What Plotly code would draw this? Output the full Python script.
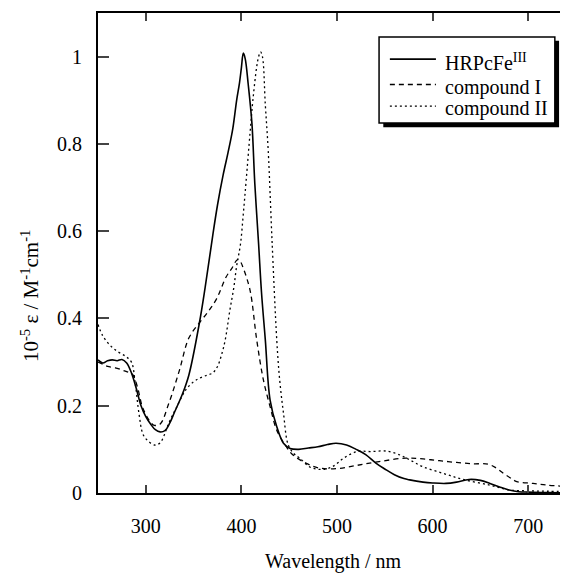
import plotly.graph_objects as go

# HRPcFe(III) resting enzyme
wl_fe = [250, 255, 260, 265, 270, 275, 280, 285, 290, 295, 300, 305, 310, 315, 320,
         325, 330, 338, 345, 356, 362, 370, 375, 381, 386, 391, 395, 398, 400, 402,
         404, 407, 411, 414, 418, 421, 425, 430, 437, 444, 451, 460, 470, 480, 490,
         499, 510, 520, 530, 541, 550, 560, 570, 576, 590, 600, 614, 625, 638, 650,
         660, 670, 680, 690, 700, 720, 741]
eps_fe = [0.305, 0.298, 0.303, 0.305, 0.303, 0.306, 0.298, 0.275, 0.24, 0.2, 0.175,
          0.158, 0.145, 0.14, 0.143, 0.16, 0.185, 0.225, 0.27, 0.389, 0.47, 0.59,
          0.66, 0.73, 0.78, 0.835, 0.9, 0.94, 0.975, 1.008, 0.995, 0.939, 0.847,
          0.71, 0.57, 0.46, 0.351, 0.213, 0.152, 0.114, 0.102, 0.1, 0.103, 0.106,
          0.111, 0.114, 0.11, 0.1, 0.088, 0.068, 0.055, 0.042, 0.033, 0.03, 0.025,
          0.023, 0.022, 0.025, 0.031, 0.029, 0.022, 0.014, 0.007, 0.003, 0.002,
          0.001, 0.0]

# compound I
wl_c1 = [250, 255, 260, 268, 275, 280, 286, 291, 296, 300, 305, 309, 315, 324, 335,
         345, 356, 365, 374, 384, 390, 396, 399, 402, 409, 416, 423, 430, 437, 447,
         454, 468, 482, 500, 520, 544, 572, 590, 607, 625, 642, 658, 666, 674, 681,
         688, 705, 720, 741]
eps_c1 = [0.30, 0.295, 0.29, 0.287, 0.282, 0.278, 0.272, 0.245, 0.2, 0.18, 0.162,
          0.155, 0.158, 0.205, 0.28, 0.355, 0.39, 0.415, 0.445, 0.495, 0.515, 0.535,
          0.53, 0.515, 0.465, 0.351, 0.259, 0.198, 0.144, 0.106, 0.087, 0.068, 0.057,
          0.056, 0.063, 0.072, 0.08, 0.078, 0.074, 0.07, 0.067, 0.066, 0.058, 0.045,
          0.035, 0.026, 0.022, 0.018, 0.015]

# compound II
wl_c2 = [250, 255, 262, 270, 279, 285, 289, 293, 297, 302, 309, 315, 324, 333, 342,
         350, 356, 364, 370, 375, 379, 383, 388, 392, 395, 399, 402, 405, 409, 412,
         416, 418, 420, 422, 425, 428, 432, 437, 440, 444, 449, 455, 461, 472, 484,
         495, 507, 521, 535, 552, 566, 576, 590, 611, 632, 660, 680, 700, 720, 741]
eps_c2 = [0.386, 0.36, 0.34, 0.325, 0.313, 0.3, 0.25, 0.18, 0.135, 0.12, 0.11, 0.115,
          0.16, 0.2, 0.237, 0.255, 0.263, 0.27, 0.275, 0.29, 0.315, 0.35, 0.42, 0.47,
          0.52, 0.57, 0.64, 0.717, 0.824, 0.9, 0.977, 1.0, 1.011, 1.0, 0.89, 0.786,
          0.58, 0.35, 0.26, 0.183, 0.11, 0.09, 0.08, 0.059, 0.054, 0.06, 0.08, 0.095,
          0.095, 0.096, 0.087, 0.076, 0.06, 0.045, 0.031, 0.018, 0.007, 0.005, 0.004,
          0.004]

series_names = ["HRPcFe<sup>III</sup>", "compound I", "compound II"]
x_ticks = [300, 400, 500, 600, 700]
y_ticks = [0, 0.2, 0.4, 0.6, 0.8, 1]
y_tick_text = ["0", "0.2", "0.4", "0.6", "0.8", "1"]

serif = "Liberation Serif"
styles = [dict(width=1.6, dash="solid"),
          dict(width=1.3, dash="5px,4px"),
          dict(width=1.3, dash="2px,3px")]

fig = go.Figure()
for (wl, eps), name, st in zip([(wl_fe, eps_fe), (wl_c1, eps_c1), (wl_c2, eps_c2)],
                               series_names, styles):
    fig.add_trace(go.Scatter(x=wl, y=eps, mode="lines", name=name, showlegend=False,
                             line=dict(color="black", shape="spline", **st)))

# hand-drawn legend box with drop shadow (like the original figure)
fig.add_shape(type="rect", xref="paper", yref="paper",
              x0=0.607, x1=0.981, y0=0.762, y1=0.942,
              fillcolor="black", line=dict(width=0))
fig.add_shape(type="rect", xref="paper", yref="paper",
              x0=0.598, x1=0.972, y0=0.771, y1=0.950,
              fillcolor="white", line=dict(color="black", width=1.5))
row_y = [0.904, 0.851, 0.806]
for name, st, yy in zip(series_names, styles, row_y):
    fig.add_shape(type="line", xref="paper", yref="paper",
                  x0=0.621, x1=0.719, y0=yy, y1=yy,
                  line=dict(color="black", **st))
    fig.add_annotation(text=name, xref="paper", yref="paper", x=0.733, y=yy - 0.006,
                       xanchor="left", yanchor="middle", showarrow=False,
                       font=dict(family=serif, size=20, color="black"))

# axis titles
fig.add_annotation(text="Wavelength / nm", xref="paper", yref="paper",
                   x=0.5, y=-0.142, xanchor="center", yanchor="middle",
                   showarrow=False, font=dict(family=serif, size=20, color="black"))
fig.add_annotation(text="10<sup>-5</sup> ε / M<sup>-1</sup>cm<sup>-1</sup>",
                   xref="paper", yref="paper", x=-0.145, y=0.41, textangle=-90,
                   xanchor="center", yanchor="middle", showarrow=False,
                   font=dict(family=serif, size=21, color="black"))

# the page body has an 8px margin, so the figure is 8px smaller than the window
fig.update_layout(
    width=560, height=565,
    margin=dict(l=90, r=0, t=5, b=80),
    paper_bgcolor="white", plot_bgcolor="white",
    font=dict(family=serif, size=20, color="black"),
    showlegend=False,
    xaxis=dict(range=[250, 741.6], tickvals=x_ticks, ticks="inside", ticklen=8,
               tickwidth=2, showline=True, linewidth=2, linecolor="black",
               mirror="ticks", showgrid=False, zeroline=False,
               ticklabelstandoff=14),
    yaxis=dict(range=[0, 1.1], tickvals=y_ticks, ticktext=y_tick_text,
               ticks="inside", ticklen=11, tickwidth=2, showline=True,
               linewidth=2, linecolor="black", showgrid=False, zeroline=False,
               ticklabelstandoff=10),
)

fig.write_html("out.html")
